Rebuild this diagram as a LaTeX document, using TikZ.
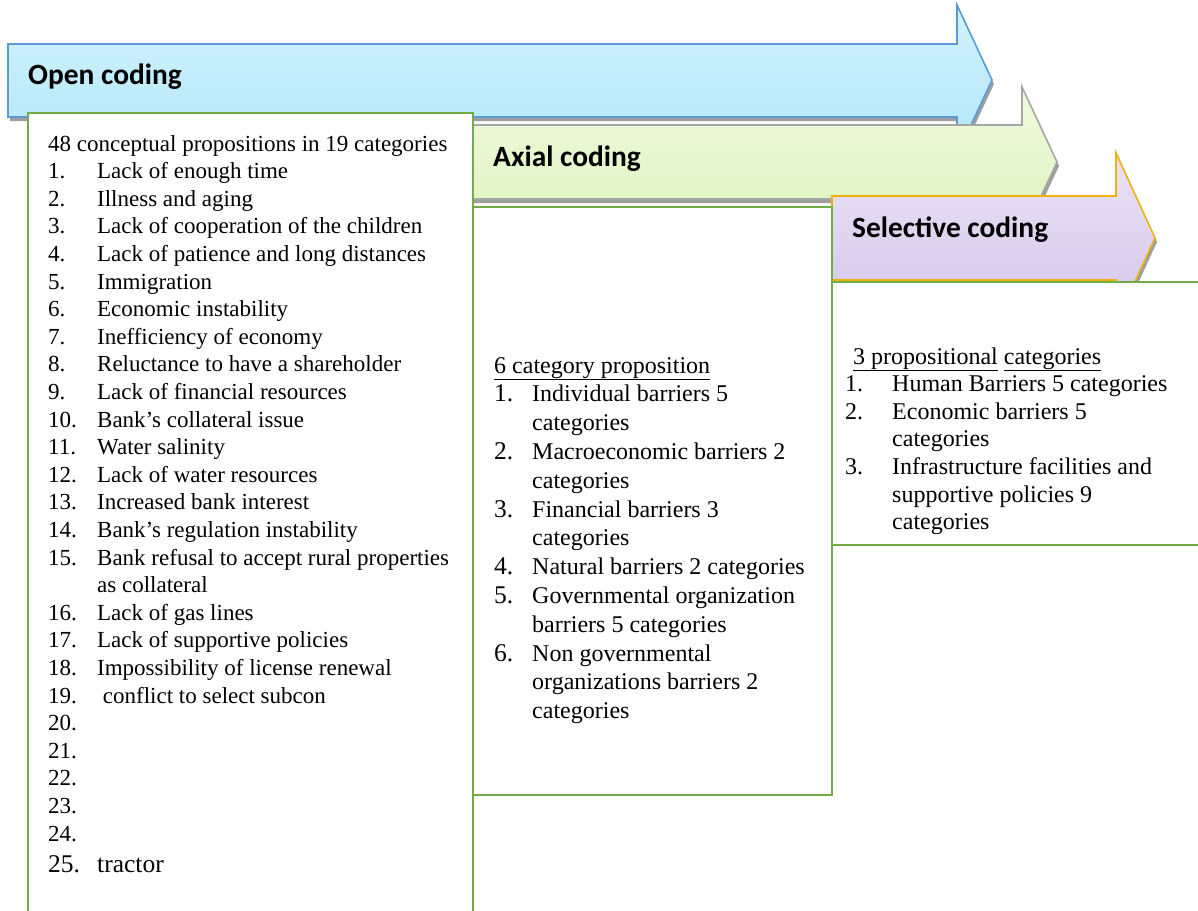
\documentclass[tikz,border=0pt]{standalone}
\usepackage{fontspec}
\setmainfont{Liberation Serif}
\newfontfamily\ttlfont{Carlito}
\definecolor{ocblue}{HTML}{5B9BD5}
\definecolor{octop}{HTML}{D4F3FD}
\definecolor{ocbot}{HTML}{B0E6FA}
\definecolor{axgray}{HTML}{A6A6A6}
\definecolor{axtop}{HTML}{EFFADF}
\definecolor{axbot}{HTML}{DCF4BC}
\definecolor{scgold}{HTML}{EDB20C}
\definecolor{sctop}{HTML}{EBE3F6}
\definecolor{scbot}{HTML}{D3C5EA}
\definecolor{boxgreen}{HTML}{70AD47}
\tikzset{
  arrowshadow/.style={fill=black!38,draw=none},
  openarrow/.style={draw=ocblue,line width=1.6pt,top color=octop,bottom color=ocbot,line join=miter},
  axialarrow/.style={draw=axgray,line width=1.6pt,top color=axtop,bottom color=axbot,line join=miter},
  selarrow/.style={draw=scgold,line width=1.6pt,top color=sctop,bottom color=scbot,line join=miter},
  textbox/.style={draw=boxgreen,line width=2.8pt,fill=white},
  ttl/.style={font=\ttlfont\bfseries\fontsize{29.4}{31}\selectfont,inner sep=0pt,anchor=base west},
  body/.style={font=\fontsize{23}{28}\selectfont,inner sep=0pt,anchor=base west},
  bodyb/.style={font=\fontsize{24}{28}\selectfont,inner sep=0pt,anchor=base west},
}
\begin{document}
\begin{tikzpicture}[x=1pt,y=-1pt]
\useasboundingbox (0,0) rectangle (1198,910);
\clip (0,0) rectangle (1198,910);
% open coding arrow
\fill[arrowshadow,shift={(2,4)}] (8,44) -- (957,44) -- (957,5) -- (992,80) -- (957,155) -- (957,117) -- (8,117) -- cycle;
\path[openarrow] (8,44) -- (957,44) -- (957,5) -- (992,80) -- (957,155) -- (957,117) -- (8,117) -- cycle;
% axial coding arrow
\fill[arrowshadow,shift={(2,4)}] (100,125) -- (1022,125) -- (1022,87) -- (1057,162) -- (1022,237) -- (1022,199) -- (100,199) -- cycle;
\path[axialarrow] (100,125) -- (1022,125) -- (1022,87) -- (1057,162) -- (1022,237) -- (1022,199) -- (100,199) -- cycle;
% selective coding arrow
\fill[arrowshadow,shift={(2,4)}] (832,196) -- (1116,196) -- (1116,153) -- (1155,238) -- (1116,323) -- (1116,280) -- (832,280) -- cycle;
\path[selarrow] (832,196) -- (1116,196) -- (1116,153) -- (1155,238) -- (1116,323) -- (1116,280) -- (832,280) -- cycle;
% boxes
\path[textbox] (28,113) rectangle (473,930);
\path[textbox] (473,207) rectangle (832,795);
\path[textbox] (832,282) rectangle (1215,545);
% titles
\node[ttl] (open) at (28,84) {Open coding};
\node[ttl] (axial) at (493,166) {Axial coding};
\node[ttl] (sel) at (852,237) {Selective coding};
% open coding list
\node[body] (oh) at (48,151) {48 conceptual propositions in 19 categories};
\foreach \n/\t [count=\i] in {1./Lack of enough time, 2./Illness and aging, 3./Lack of cooperation of the children, 4./Lack of patience and long distances, 5./Immigration, 6./Economic instability, 7./Inefficiency of economy, 8./Reluctance to have a shareholder, 9./Lack of financial resources, 10./Bank's collateral issue, 11./Water salinity, 12./Lack of water resources, 13./Increased bank interest, 14./Bank's regulation instability, 15./Bank refusal to accept rural properties, {}/as collateral, 16./Lack of gas lines, 17./Lack of supportive policies, 18./Impossibility of license renewal, 19./\ conflict to select subcon, 20./{}, 21./{}, 22./{}, 23./{}, 24./{}}
  \node[body] (ol\i) at (48,151+27.6*\i) {\makebox[49pt][l]{\n}\t};
\node[body,font=\fontsize{25.5}{28}\selectfont] (ol26) at (48,872) {\makebox[49pt][l]{25.}tractor};
% axial list
\node[bodyb] (ah) at (494,373) {\underline{6 category proposition}};
\foreach \n/\t [count=\i] in {1./Individual barriers 5, {}/categories, 2./Macroeconomic barriers 2, {}/categories, 3./Financial barriers 3, {}/categories, 4./Natural barriers 2 categories, 5./Governmental organization, {}/barriers 5 categories, 6./Non governmental, {}/organizations barriers 2, {}/categories}
  \node[bodyb] (al\i) at (494,373+28.8*\i) {\makebox[38pt][l]{\fontsize{25.5}{28}\selectfont\n}\t};
% selective list
\node[bodyb] (sh) at (853,364) {\underline{3 propositional} \underline{categories}};
\foreach \n/\t [count=\i] in {1./Human Barriers 5 categories, 2./Economic barriers 5, {}/categories, 3./Infrastructure facilities and, {}/supportive policies 9, {}/categories}
  \node[bodyb] (sl\i) at (845,364+27.6*\i) {\makebox[47pt][l]{\n}\t};
\end{tikzpicture}
\end{document}
